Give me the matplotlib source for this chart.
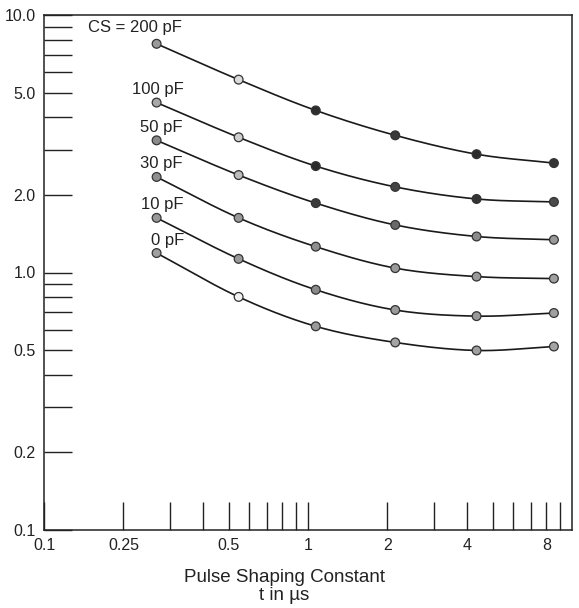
import numpy as np
import matplotlib
matplotlib.use("Agg")
import matplotlib.pyplot as plt

plt.rcParams['font.family'] = ['Liberation Sans', 'DejaVu Sans']

# ---- data ----
t_us = [0.267, 0.546, 1.07, 2.14, 4.35, 8.54]
series_labels = ["CS = 200 pF", "100 pF", "50 pF", "30 pF", "10 pF", "0 pF"]
v_200 = [7.73, 5.61, 4.26, 3.41, 2.88, 2.66]
v_100 = [4.57, 3.35, 2.59, 2.15, 1.93, 1.88]
v_50 = [3.26, 2.39, 1.86, 1.53, 1.38, 1.34]
v_30 = [2.35, 1.63, 1.26, 1.04, 0.964, 0.947]
v_10 = [1.63, 1.13, 0.857, 0.715, 0.677, 0.696]
v_0 = [1.19, 0.804, 0.618, 0.535, 0.498, 0.516]
series_values = [v_200, v_100, v_50, v_30, v_10, v_0]

x_tick_pos = [0.1, 0.2, 0.3, 0.4, 0.5, 0.6, 0.7, 0.8, 0.9, 1, 2, 3, 4, 5, 6, 7, 8, 9]
x_tick_lab = ["0.1", "0.25", "", "", "0.5", "", "", "", "", "1", "2", "", "4", "", "", "", "8", ""]
y_tick_pos = [0.1, 0.2, 0.3, 0.4, 0.5, 0.6, 0.7, 0.8, 0.9, 1, 2, 3, 4, 5, 6, 7, 8, 9, 10]
y_tick_lab = ["0.1", "0.2", "", "", "0.5", "", "", "", "", "1.0", "2.0", "", "", "5.0", "", "", "", "", "10.0"]

# marker shading (as in the scan)
face_colors = [
    ["#9a9a9a", "#dcdcdc", "#2e2e2e", "#3a3a3a", "#2a2a2a", "#333333"],
    ["#a8a8a8", "#cfcfcf", "#2a2a2a", "#444444", "#333333", "#4a4a4a"],
    ["#8a8a8a", "#bdbdbd", "#3a3a3a", "#6a6a6a", "#8a8a8a", "#999999"],
    ["#8f8f8f", "#999999", "#8f8f8f", "#9a9a9a", "#9a9a9a", "#a0a0a0"],
    ["#999999", "#9a9a9a", "#8a8a8a", "#9a9a9a", "#999999", "#a0a0a0"],
    ["#a0a0a0", "#f2f2f2", "#9a9a9a", "#a4a4a4", "#a0a0a0", "#a4a4a4"],
]
label_offsets = [(-22, 16), (1, 13), (5, 13), (5, 13), (6, 13), (11, 13)]


def catmull_rom(xs, ys, n=30):
    lx, ly = np.log10(xs), np.log10(ys)
    P = np.column_stack([lx, ly])
    P = np.vstack([2 * P[0] - P[1], P, 2 * P[-1] - P[-2]])
    out = []
    for i in range(1, len(P) - 2):
        p0, p1, p2, p3 = P[i - 1], P[i], P[i + 1], P[i + 2]
        for s in np.linspace(0, 1, n, endpoint=False):
            s2, s3 = s * s, s * s * s
            pt = 0.5 * ((2 * p1) + (-p0 + p2) * s + (2 * p0 - 5 * p1 + 4 * p2 - p3) * s2
                        + (-p0 + 3 * p1 - 3 * p2 + p3) * s3)
            out.append(pt)
    out.append(P[-2])
    out = np.array(out)
    return 10 ** out[:, 0], 10 ** out[:, 1]


fig = plt.figure(figsize=(5.79, 6.08), dpi=100)
ax = fig.add_axes([44 / 579, 1 - 530 / 608, (572 - 44) / 579, (530 - 15) / 608])
ax.set_xscale("log")
ax.set_yscale("log")
ax.set_xlim(0.1, 10)
ax.set_ylim(0.1, 10)

for vals, fcs, lab, off in zip(series_values, face_colors, series_labels, label_offsets):
    sx, sy = catmull_rom(t_us, vals)
    ax.plot(sx, sy, color="#1a1a1a", lw=1.2, zorder=2)
    ax.scatter(t_us, vals, s=40, c=fcs, edgecolors="#333333", linewidths=0.9, zorder=3)
    ax.annotate(lab, (t_us[0], vals[0]), xytext=off, textcoords="offset pixels",
                ha="center", va="center", fontsize=12, color="#222222")

ax.xaxis.set_minor_locator(matplotlib.ticker.NullLocator())
ax.yaxis.set_minor_locator(matplotlib.ticker.NullLocator())
ax.set_xticks(x_tick_pos, x_tick_lab)
ax.set_yticks(y_tick_pos, y_tick_lab)
ax.tick_params(axis="both", direction="in", length=20, width=1.0, color="#222222",
               labelsize=11.5, pad=6, labelcolor="#222222")
for sp in ax.spines.values():
    sp.set_linewidth(1.1)
    sp.set_color("#222222")

fig.text(284 / 579, 1 - 577 / 608, "Pulse Shaping Constant", ha="center", va="center",
         fontsize=13.5, color="#222222")
fig.text(284 / 579, 1 - 595 / 608, "t in \u00b5s", ha="center", va="center",
         fontsize=13.5, color="#222222")

fig.savefig("out.png", dpi=100)
